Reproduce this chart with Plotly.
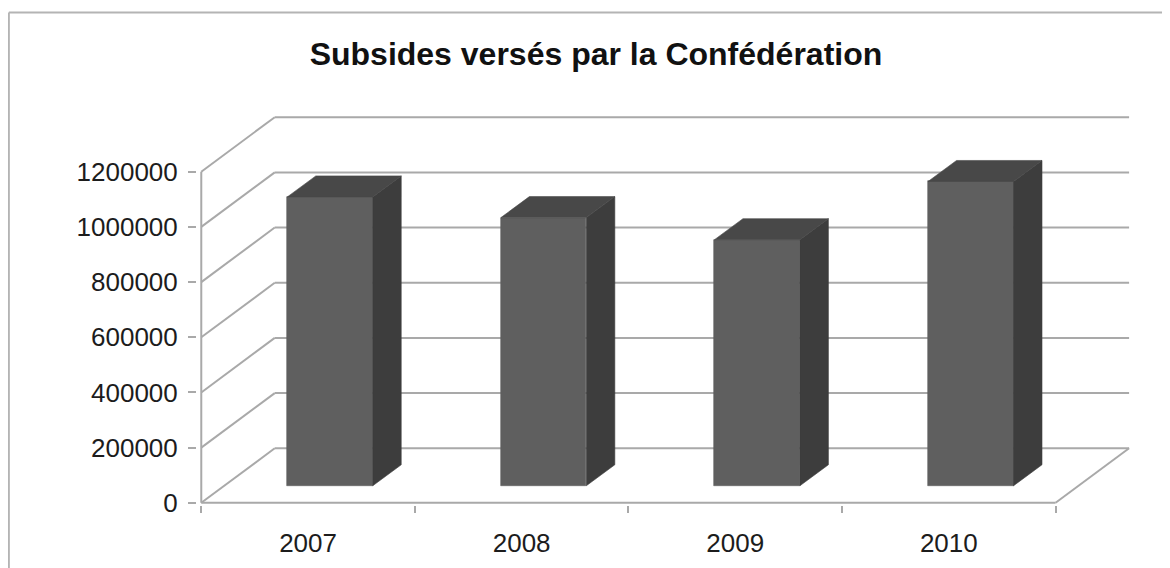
import plotly.graph_objects as go

title = "Subsides versés par la Confédération"
categories = ["2007", "2008", "2009", "2010"]
values = [1047000, 972000, 892000, 1103000]
y_ticks = [0, 200000, 400000, 600000, 800000, 1000000, 1200000]

# projection of the 3D look, in axis units
WALL_DX, WALL_DY = 0.344, 197700
BAR_DX, BAR_DY = 0.1334, 76200
BAR_BASE = 61700
BAR_CENTRE = 0.6028
BAR_W = 0.4
N = len(categories)

FRONT, SIDE, TOP = "#5f5f5f", "#3d3d3d", "#484848"
GRID = "#a9a9a9"
TEXT = "#1c1c1c"
FONT = "Liberation Sans, Arial, sans-serif"

fig = go.Figure()

centres = [i + BAR_CENTRE for i in range(N)]
fig.add_trace(go.Bar(x=centres, y=values, base=BAR_BASE, width=BAR_W,
                     marker=dict(color=FRONT, line=dict(width=0.6, color=FRONT)),
                     showlegend=False, hoverinfo="skip"))

for c, v in zip(centres, values):
    l, r = c - BAR_W / 2, c + BAR_W / 2
    bot, top = BAR_BASE, BAR_BASE + v
    fig.add_trace(go.Scatter(
        x=[r, r + BAR_DX, r + BAR_DX, r, r],
        y=[bot, bot + BAR_DY, top + BAR_DY, top, bot],
        mode="lines", fill="toself", fillcolor=SIDE, line=dict(width=0.6, color=SIDE),
        showlegend=False, hoverinfo="skip"))
    fig.add_trace(go.Scatter(
        x=[l, l + BAR_DX, r + BAR_DX, r, l],
        y=[top, top + BAR_DY, top + BAR_DY, top, top],
        mode="lines", fill="toself", fillcolor=TOP, line=dict(width=0.6, color=TOP),
        showlegend=False, hoverinfo="skip"))


def seg(x0, y0, x1, y1):
    return dict(type="line", xref="x", yref="y", x0=x0, y0=y0, x1=x1, y1=y1,
                layer="below", line=dict(color=GRID, width=2))


shapes = []
for t in y_ticks:
    shapes.append(seg(0, t, WALL_DX, t + WALL_DY))
    shapes.append(seg(WALL_DX, t + WALL_DY, N + WALL_DX, t + WALL_DY))
shapes.append(seg(0, 0, 0, y_ticks[-1]))
shapes.append(seg(0, 0, N, 0))
shapes.append(seg(N, 0, N + WALL_DX, WALL_DY))

# chart frame, running off the picture on the right and at the bottom
shapes.append(dict(type="line", xref="paper", yref="paper", x0=-0.2008, x1=1.1,
                   y0=1.2626, y1=1.2626, layer="below",
                   line=dict(color="#b4b4b4", width=2)))
shapes.append(dict(type="line", xref="paper", yref="paper", x0=-0.2008, x1=-0.2008,
                   y0=1.2626, y1=-0.3, layer="below",
                   line=dict(color="#b4b4b4", width=2)))

fig.update_layout(
    width=1162, height=560, autosize=False,
    margin=dict(l=189.2, r=35.7, t=107.3, b=63.1, pad=0, autoexpand=False),
    paper_bgcolor="white", plot_bgcolor="white",
    font=dict(family=FONT, color=TEXT, size=26),
    title=dict(text=f"<b>{title}</b>", x=0.506, xanchor="center", y=0.918,
               yanchor="middle", font=dict(size=32, color="#111111")),
    shapes=shapes, showlegend=False, bargap=0,
    xaxis=dict(range=[-0.02, 4.367], tickmode="array", automargin=False,
               tickvals=[i + 0.5 for i in range(N)], ticktext=categories,
               ticks="", showgrid=False, zeroline=False, showline=False,
               tickfont=dict(size=26), ticklabelstandoff=20,
               minor=dict(tickmode="array", tickvals=list(range(N + 1)),
                          ticks="outside", ticklen=7, tickwidth=1.5,
                          tickcolor=GRID, showgrid=False)),
    yaxis=dict(range=[-8000, 1405700], tickmode="array", tickvals=y_ticks,
               ticktext=[str(t) for t in y_ticks], ticks="outside", ticklen=8,
               automargin=False,
               tickwidth=1.5, tickcolor=GRID, showgrid=False, zeroline=False,
               showline=False, tickfont=dict(size=26), ticklabelstandoff=5),
)

fig.write_html("out.html")
